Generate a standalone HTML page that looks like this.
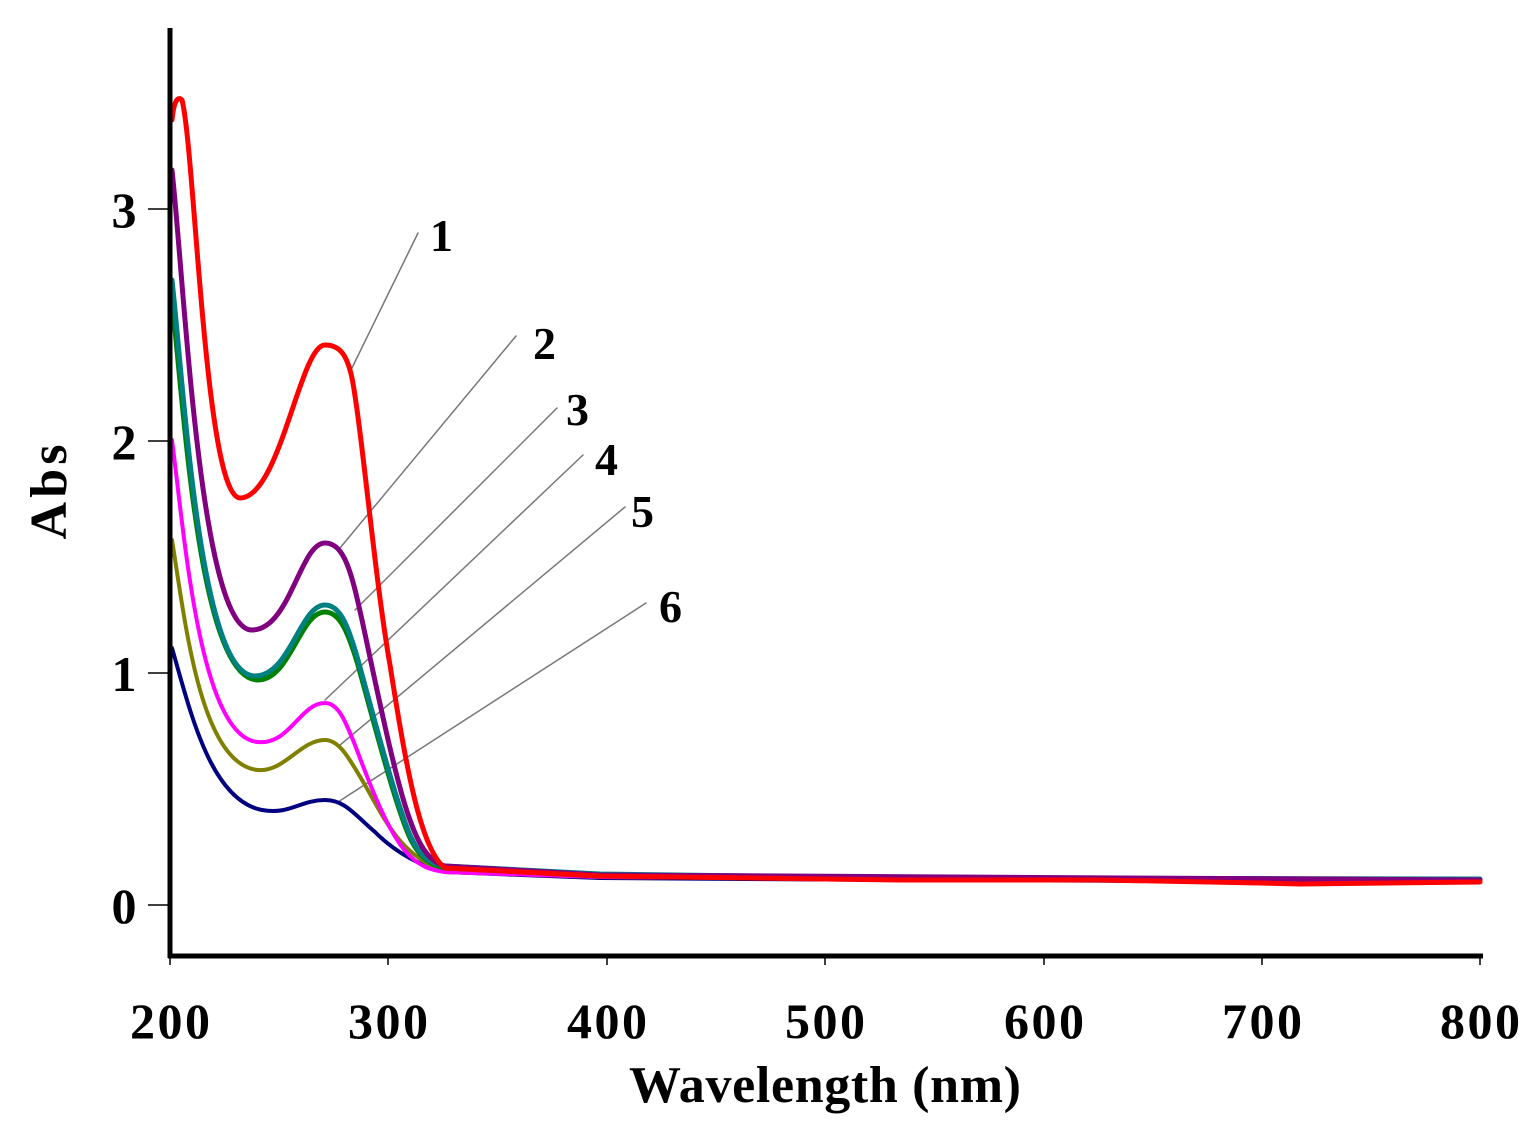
<!DOCTYPE html>
<html><head><meta charset="utf-8"><style>
html,body{margin:0;padding:0;background:#fff;}
svg{display:block;}
text{font-family:"Liberation Serif",serif;font-weight:bold;fill:#000;}
</style></head><body>
<svg width="1540" height="1127" viewBox="0 0 1540 1127" xmlns="http://www.w3.org/2000/svg">
<g fill="none" stroke-linecap="round" stroke-linejoin="round">
<g stroke="#777" stroke-width="1.5">
<line x1="350" y1="372" x2="418" y2="233"/>
<line x1="340" y1="548" x2="516" y2="336"/>
<line x1="355" y1="610" x2="557" y2="408"/>
<line x1="325" y1="700" x2="583" y2="455"/>
<line x1="340" y1="745" x2="625" y2="507"/>
<line x1="338" y1="802" x2="646" y2="603"/>
</g>
<path stroke="#000080" stroke-width="4" d="M172,648 C190,710 210,800 262,810 C290,815 300,800 325,800 C345,800 355,815 375,832 C395,852 420,866 445,872 L600,878 L900,880 L1480,882"/>
<path stroke="#808000" stroke-width="4" d="M172,540 C185,620 200,765 258,770 C285,772 300,740 325,740 C340,740 350,760 365,785 C385,820 400,855 445,872 L600,877 L1480,882"/>
<path stroke="#ff00ff" stroke-width="4" d="M172,440 C185,540 200,738 258,742 C290,745 300,703 325,703 C338,703 345,720 355,745 C370,785 390,838 410,856 C420,866 430,870 445,872 L600,877 L1480,882"/>
<path stroke="#008000" stroke-width="5" d="M172,300 C185,420 200,680 258,680 C290,680 300,612 325,612 C340,612 348,632 358,665 C372,715 395,805 410,838 C420,858 430,865 445,868 L600,876 L1480,880"/>
<path stroke="#008080" stroke-width="5" d="M172,280 C185,400 200,676 255,676 C290,676 300,605 325,605 C340,605 348,625 358,660 C372,710 395,800 410,835 C420,857 430,864 445,866 L600,874 L900,878 L1480,879"/>
<path stroke="#800080" stroke-width="5" d="M172,170 C185,290 200,630 252,630 C290,630 300,543 325,543 C345,543 352,575 362,620 C375,680 395,780 410,820 C420,848 430,862 445,866 L600,875 L1480,880"/>
<path stroke="#ff0000" stroke-width="5" d="M172,120 C174,100 178,96 182,100 C195,150 205,498 240,498 C280,498 300,345 325,345 C340,345 347,355 352,378 C362,430 375,580 390,665 C405,760 420,850 445,868 L600,876 L900,880 L1100,880 L1260,883 L1300,884 L1480,882"/>
</g>
<line x1="170" y1="28" x2="170" y2="958" stroke="#000" stroke-width="5"/>
<line x1="168" y1="956" x2="1483" y2="956" stroke="#000" stroke-width="5"/>
<g stroke="#000" stroke-width="1.5">
<line x1="148" y1="905" x2="170" y2="905"/>
<line x1="148" y1="673" x2="170" y2="673"/>
<line x1="148" y1="441" x2="170" y2="441"/>
<line x1="148" y1="209" x2="170" y2="209"/>
<line x1="170" y1="956" x2="170" y2="965"/>
<line x1="388" y1="956" x2="388" y2="965"/>
<line x1="607" y1="956" x2="607" y2="965"/>
<line x1="825" y1="956" x2="825" y2="965"/>
<line x1="1044" y1="956" x2="1044" y2="965"/>
<line x1="1262" y1="956" x2="1262" y2="965"/>
<line x1="1480" y1="956" x2="1480" y2="965"/>
</g>
<g font-size="50" text-anchor="middle">
<text x="124" y="923">0</text>
<text x="124" y="691">1</text>
<text x="124" y="459">2</text>
<text x="124" y="227">3</text>
<text x="170" y="1038" textLength="80">200</text>
<text x="388" y="1038" textLength="80">300</text>
<text x="607" y="1038" textLength="80">400</text>
<text x="825" y="1038" textLength="80">500</text>
<text x="1044" y="1038" textLength="80">600</text>
<text x="1262" y="1038" textLength="80">700</text>
<text x="1480" y="1038" textLength="80">800</text>
<text x="825" y="1102" font-size="52" textLength="392">Wavelength (nm)</text>
<text transform="translate(66,492) rotate(-90)" font-size="52" textLength="95">Abs</text>
</g>
<g font-size="46">
<text x="430" y="251">1</text>
<text x="533" y="359">2</text>
<text x="566" y="425">3</text>
<text x="595" y="475">4</text>
<text x="631" y="527">5</text>
<text x="659" y="622">6</text>
</g>
</svg>
</body></html>
